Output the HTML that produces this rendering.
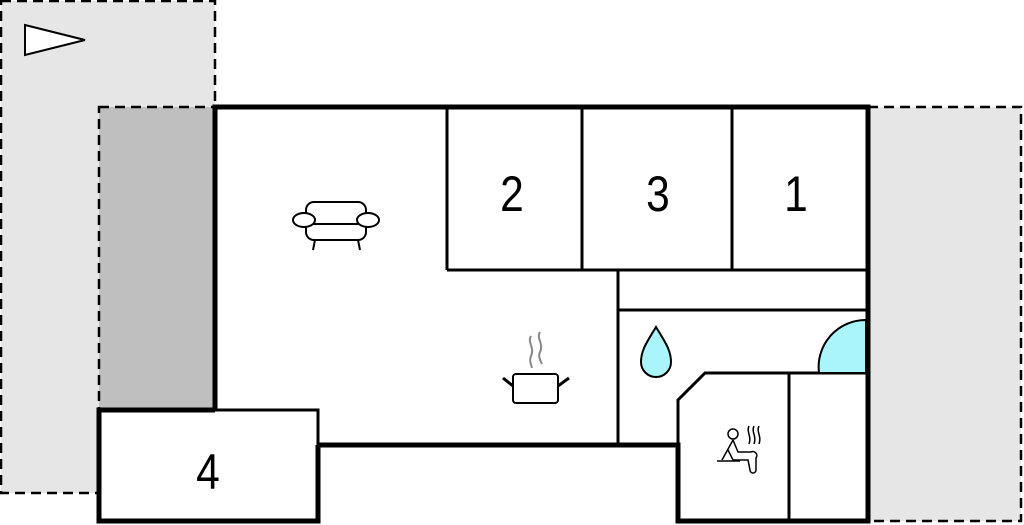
<!DOCTYPE html>
<html><head><style>html,body{margin:0;padding:0;background:#fff}svg{display:block}</style></head><body>
<svg width="1024" height="525" viewBox="0 0 1024 525" xmlns="http://www.w3.org/2000/svg">
<rect x="1" y="1" width="214" height="492" fill="#e6e6e6" stroke="#000" stroke-width="2.5" stroke-dasharray="10,6"/>
<rect x="99" y="107" width="116" height="303" fill="#bfbfbf" stroke="#000" stroke-width="2.5" stroke-dasharray="10,6"/>
<rect x="868" y="107" width="153" height="414" fill="#e6e6e6" stroke="#000" stroke-width="2.5" stroke-dasharray="10,6"/>
<polygon points="215,107 868,107 868,521 678,521 678,445 318,445 318,410 215,410" fill="#fff"/>
<rect x="99" y="410" width="219" height="111" fill="#fff"/>
<polygon points="25,25 85,40 25,55" fill="#fff" stroke="#000" stroke-width="2"/>
<g stroke="#000" stroke-width="3" fill="none">
<line x1="447" y1="107" x2="447" y2="270"/>
<line x1="582" y1="107" x2="582" y2="270"/>
<line x1="732" y1="107" x2="732" y2="270"/>
<line x1="447" y1="270" x2="868" y2="270"/>
<line x1="618" y1="270" x2="618" y2="445"/>
<line x1="618" y1="310" x2="868" y2="310"/>
<polyline points="678,445 678,400 705,373 868,373"/>
<line x1="789" y1="373" x2="789" y2="521"/>
<polyline points="215,410 318,410 318,445"/>
</g>
<path d="M866,373 L819,373 A47,47 0 0 1 866,320 Z" fill="#aaf5fb" stroke="#000" stroke-width="2"/>
<g stroke="#000" stroke-width="5" fill="none">
<polyline points="215,410 215,107 868,107 868,521 678,521 678,445 318,445"/>
<polyline points="318,445 318,521 99,521 99,410 215,410"/>
</g>
<path d="M656,327 C665,342 671,350 671,362 A15,15 0 0 1 641,362 C641,350 647,342 656,327 Z" fill="#aaf5fb" stroke="#000" stroke-width="2"/>
<g stroke="#000" stroke-width="2" fill="#fff">
<rect x="306" y="202" width="60" height="38" rx="8"/>
<line x1="306" y1="224" x2="366" y2="224"/>
<ellipse cx="304" cy="220" rx="11" ry="7"/>
<ellipse cx="368" cy="220" rx="11" ry="7"/>
<line x1="315" y1="240" x2="313" y2="250"/>
<line x1="358" y1="240" x2="360" y2="250"/>
<rect x="513" y="374" width="45" height="29" rx="3"/>
<line x1="513" y1="386" x2="503" y2="378" stroke-width="3"/>
<line x1="558" y1="386" x2="569" y2="378" stroke-width="3"/>
</g>
<g stroke="#888" stroke-width="2" fill="none">
<path d="M531,336 C527,342 535,348 531,356 C529,360 531,364 532,368"/>
<path d="M540,332 C536,338 544,344 540,352 C538,356 540,360 542,364"/>
</g>
<g stroke="#000" stroke-width="1.5" fill="none">
<circle cx="733" cy="434" r="5"/>
<path d="M733,440 L722,460 M733,440 L738,452 L751,452 A4,4 0 0 1 756,458 L756,470 A3,3 0 0 1 750,470 L748,460 L733,460 L728,450"/>
<line x1="717" y1="461" x2="740" y2="461"/>
<path d="M749,426 C746,432 752,436 749,444 M754,426 C751,432 757,436 754,444 M759,426 C756,432 762,436 759,444"/>
</g>
<g font-family="Liberation Sans, sans-serif" font-size="50" text-anchor="middle" fill="#000">
<text transform="translate(512,211) scale(0.85,1)">2</text>
<text transform="translate(658,211) scale(0.85,1)">3</text>
<text transform="translate(796,211) scale(0.85,1)">1</text>
<text transform="translate(208,489) scale(0.85,1)">4</text>
</g>
</svg>
</body></html>
